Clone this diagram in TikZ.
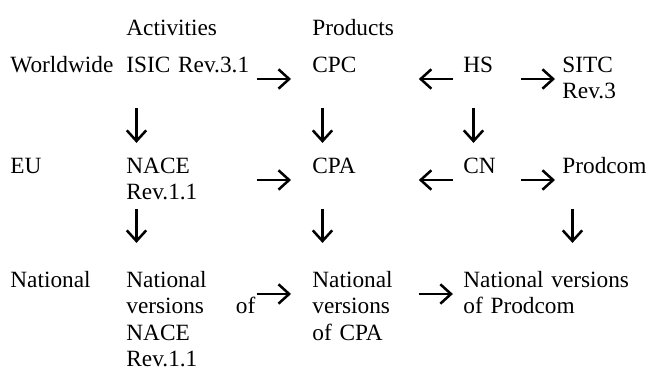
\documentclass[tikz,border=0pt]{standalone}
\usepackage{fontspec}
\setmainfont{Liberation Serif}
\usetikzlibrary{arrows.meta}
\tikzset{
	txt/.style = {inner sep=0, anchor=base west, font=\fontsize{12}{13.7}\selectfont},
	colone/.style = {txt, text width=66.4pt, align=left},
	coltwo/.style = {txt, text width=46.4pt, align=left},
	colthree/.style = {txt, text width=25.8pt, align=left},
	colfour/.style = {txt, text width=46pt, align=left},
	wide/.style = {txt, text width=90pt, align=left},
	link/.style = {line width=1.3pt, -{Straight Barb[length=5.5pt, width=10pt]}}
}
\begin{document}
\begin{tikzpicture}[x=0.515pt, y=-0.515pt]
	\useasboundingbox (0,0) rectangle (652,370);
	
	\node [txt] (act) at (126,35) {Activities};
	\node [txt] (prod) at (312,35) {Products};
	
	\node [txt] (world) at (10,72) {Worldwide};
	\node [txt] (eu) at (10,173) {EU};
	\node [txt] (nat) at (10,287) {National};
	
	\node [colone] (isic) at (126,72) {ISIC Rev.3.1};
	\node [coltwo] (cpc) at (312,72) {CPC};
	\node [colthree] (hs) at (463,72) {HS};
	\node [colfour] (sitc) at (562,72) {SITC\\Rev.3};
	
	\node [colone] (nace) at (126,173) {NACE\\Rev.1.1};
	\node [coltwo] (cpa) at (312,173) {CPA};
	\node [colthree] (cn) at (463,173) {CN};
	\node [colfour] (prodcom) at (562,173) {Prodcom};
	
	\node [colone] (natnace) at (126,287) {National\\versions\hfill of\\NACE\\Rev.1.1};
	\node [coltwo] (natcpa) at (312,287) {National\\versions\\of CPA};
	\node [wide] (natprod) at (463,287) {National versions\\of Prodcom};
	
	\draw [link, shorten <=0.5pt, shorten >=10.8pt] ([yshift=-3.6pt]isic.base east) -- ([yshift=-3.6pt]cpc.base west);
	\draw [link, shorten <=5.2pt, shorten >=8.2pt] ([yshift=-3.6pt]hs.base west) -- ([yshift=-3.6pt]cpc.base east);
	\draw [link, shorten <=3.6pt, shorten >=3.6pt] ([yshift=-3.6pt]hs.base east) -- ([yshift=-3.6pt]sitc.base west);
	
	\draw [link, shorten <=0.5pt, shorten >=10.8pt] ([yshift=-3.6pt]nace.base east) -- ([yshift=-3.6pt]cpa.base west);
	\draw [link, shorten <=5.2pt, shorten >=8.2pt] ([yshift=-3.6pt]cn.base west) -- ([yshift=-3.6pt]cpa.base east);
	\draw [link, shorten <=3.6pt, shorten >=3.6pt] ([yshift=-3.6pt]cn.base east) -- ([yshift=-3.6pt]prodcom.base west);
	
	\draw [link, shorten <=0.5pt, shorten >=10.8pt] ([yshift=-3.6pt]natnace.base east) -- ([yshift=-3.6pt]natcpa.base west);
	\draw [link, shorten <=8.2pt, shorten >=5.2pt] ([yshift=-3.6pt]natcpa.base east) -- ([yshift=-3.6pt]natprod.base west);
	
	\draw [link, shorten <=18.5pt, shorten >=15.5pt] ([xshift=5.4pt]isic.base west) -- ([xshift=5.4pt]nace.base west);
	\draw [link, shorten <=18.5pt, shorten >=15.5pt] ([xshift=5.4pt]cpc.base west) -- ([xshift=5.4pt]cpa.base west);
	\draw [link, shorten <=18.5pt, shorten >=15.5pt] ([xshift=5.4pt]hs.base west) -- ([xshift=5.4pt]cn.base west);
	
	\draw [link, shorten <=18.5pt, shorten >=22.7pt] ([xshift=5.4pt]nace.base west) -- ([xshift=5.4pt]natnace.base west);
	\draw [link, shorten <=18.5pt, shorten >=22.7pt] ([xshift=5.4pt]cpa.base west) -- ([xshift=5.4pt]natcpa.base west);
	\draw [link, shorten <=18.5pt, shorten >=22.7pt] ([xshift=5.4pt]prodcom.base west) -- ([xshift=5.4pt]prodcom.base west |- natprod.base);
\end{tikzpicture}
\end{document}
